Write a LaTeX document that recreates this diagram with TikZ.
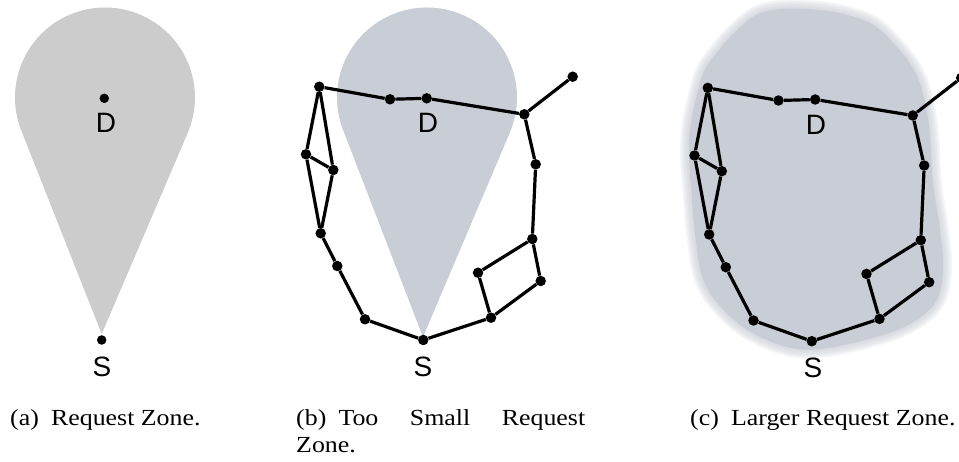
\documentclass[tikz,border=0pt]{standalone}
\usepackage{graphicx}
\usepackage{fontspec}
\setmainfont{Liberation Serif}
\newfontfamily\labelfont{Liberation Sans}
\usetikzlibrary{calc}

\definecolor{dropgray}{RGB}{204,204,204}
\definecolor{zoneblue}{RGB}{201,205,213}

\tikzset{
  dot/.style={circle, fill=black, draw=none, inner sep=0pt, minimum size=10.5pt},
  ptdot/.style={circle, fill=black, draw=none, inner sep=0pt, minimum size=9.5pt},
  link/.style={line width=3.2pt, black},
  letter/.style={font=\labelfont\fontsize{28}{28}\selectfont, inner sep=0pt},
  subcap/.style={font=\fontsize{23}{27}\selectfont, inner sep=0pt, anchor=base west},
}

% horizontally widened caption text
\newcommand\capx[1]{\scalebox{1.125}[1]{#1}}

% outline of the enlarged zone
\newcommand\zonepath{plot[smooth cycle, tension=0.6] coordinates {
  (767,11) (820,10) (868,22) (895,45) (915,72) (925,102) (930,135) (933,183)
  (940,230) (943,270) (935,303) (908,325) (869,339) (820,349) (787,347)
  (749,331) (719,305) (702,276) (695,233) (692,200) (689,150) (692,117)
  (702,77) (712,59) (738,29)}}

% the ad hoc network; #1 is a prefix for node names
\newcommand\network[1]{%
  \node[dot] (#1A) at (319.3,86.7) {};
  \node[dot] (#1B) at (390,99.3) {};
  \node[dot] (#1C) at (426.7,98.3) {};
  \node[dot] (#1E) at (524.3,114.3) {};
  \node[dot] (#1F) at (572.7,76.7) {};
  \node[dot] (#1G) at (535.7,164.3) {};
  \node[dot] (#1H) at (532.3,239) {};
  \node[dot] (#1I) at (540.7,281) {};
  \node[dot] (#1J) at (478,272.7) {};
  \node[dot] (#1K) at (491,317.7) {};
  \node[dot] (#1S) at (423.3,340) {};
  \node[dot] (#1L) at (365,319.3) {};
  \node[dot] (#1M) at (337.3,266) {};
  \node[dot] (#1N) at (320.7,233.3) {};
  \node[dot] (#1O) at (306,154.3) {};
  \node[dot] (#1P) at (333.3,170) {};
  \foreach \u/\v in {A/B,B/C,C/E,E/F,E/G,G/H,H/I,H/J,J/K,I/K,K/S,S/L,L/M,M/N,N/O,N/P,O/P,A/O,A/P}
    \draw[link] (#1\u) -- (#1\v);
}

\begin{document}
\begin{tikzpicture}[x=1pt, y=-1pt]
  \useasboundingbox (0,0) rectangle (959,462);
  \clip (0,0) rectangle (959,462);

  % (a) request zone
  \fill[dropgray] (101.7,334) -- ($(105,97.5)+(158.43:90)$)
    arc[start angle=158.43, end angle=383.17, radius=90] -- cycle;
  \node[ptdot] (aD) at (104.3,98.3) {};
  \node[ptdot] (aS) at (101.7,340) {};
  \node[letter] (aDl) at (106,123) {D};
  \node[letter] (aSl) at (102,367) {S};

  % (b) too small request zone
  \fill[zoneblue] (423,337) -- ($(427,97.5)+(158.89:90)$)
    arc[start angle=158.89, end angle=383.03, radius=90] -- cycle;
  \node[letter] (bDl) at (428,123) {D};
  \network{b}
  \node[letter] (bSl) at (423,367) {S};

  % (c) larger request zone with a soft, feathered edge
  \foreach \w in {18,15,12,9,6,3}
    \draw[zoneblue, line width=\w pt, opacity=0.18, line join=round] \zonepath;
  \fill[zoneblue] \zonepath;
  \node[letter] (cDl) at (816,125) {D};
  \begin{scope}[shift={(388.5,1.2)}]
    \network{c}
  \end{scope}
  \node[letter] (cSl) at (813,367.5) {S};

  % sub-captions
  \node[subcap] (capa) at (10,425) {\capx{(a)\hspace{0.47em}Request Zone.}};
  \node[subcap] (capb1) at (296,425) {\capx{\makebox[256.9pt][s]{(b)\hspace{0.47em}Too Small Request}}};
  \node[subcap] (capb2) at (296,452) {\capx{Zone.}};
  \node[subcap] (capc) at (690,425) {\capx{(c)\hspace{0.47em}Larger Request Zone.}};
\end{tikzpicture}
\end{document}
